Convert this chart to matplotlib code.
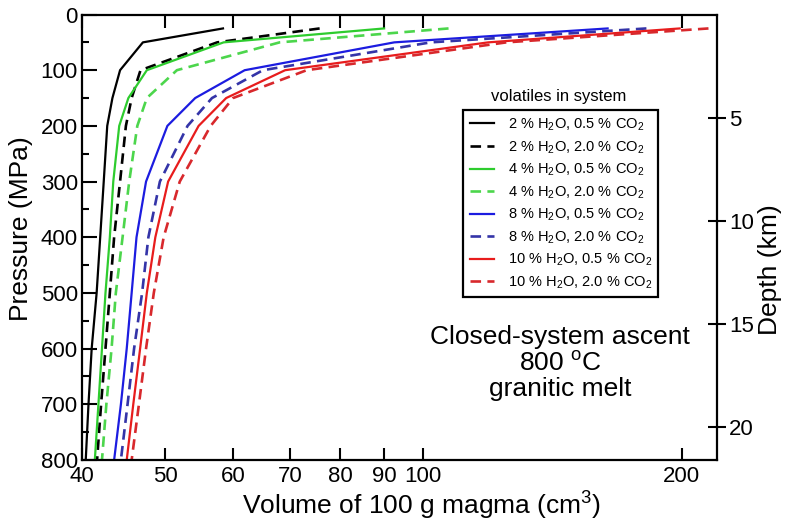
import numpy as np
import matplotlib
matplotlib.use("Agg")
import matplotlib.pyplot as plt
from matplotlib.ticker import MultipleLocator, NullLocator

plt.rcParams['font.family'] = ['Liberation Sans', 'DejaVu Sans']
plt.rcParams['mathtext.fontset'] = 'custom'
plt.rcParams['mathtext.rm'] = 'Liberation Sans'
plt.rcParams['mathtext.it'] = 'Liberation Sans:italic'

# pressure steps of the model (MPa)
pressure = [25, 50, 100, 150, 200, 300, 400, 500, 600, 700, 800]

# volume of 100 g magma (cm3) for each volatile content
vol_2h2o_05co2 = [58.4, 47.1, 44.3, 43.4, 42.8, 42.4, 42.0, 41.6, 41.05, 40.7, 40.4]
vol_2h2o_20co2 = [75.7, 57.5, 46.8, 45.7, 45.0, 44.3, 43.6, 43.1, 42.6, 42.1, 41.65]
vol_4h2o_05co2 = [90.0, 58.5, 47.6, 45.3, 44.2, 43.5, 43.1, 42.6, 42.2, 41.8, 41.4]
vol_4h2o_20co2 = [107.0, 68.0, 51.6, 47.6, 46.4, 45.4, 44.6, 43.8, 43.3, 42.7, 42.2]
vol_8h2o_05co2 = [164.0, 92.5, 61.9, 54.2, 50.3, 47.5, 46.3, 45.7, 45.1, 44.4, 43.6]
vol_8h2o_20co2 = [182.0, 102.0, 65.0, 56.7, 53.1, 49.3, 47.8, 47.0, 46.0, 45.2, 44.4]
vol_10h2o_05co2 = [199.0, 119.0, 69.0, 58.9, 54.7, 50.4, 48.7, 47.6, 46.75, 45.9, 45.1]
vol_10h2o_20co2 = [215.0, 125.0, 73.1, 60.0, 56.5, 52.0, 49.8, 48.5, 47.5, 46.6, 45.7]

labels = ['2 % H$_2$O, 0.5 % CO$_2$', '2 % H$_2$O, 2.0 % CO$_2$',
          '4 % H$_2$O, 0.5 % CO$_2$', '4 % H$_2$O, 2.0 % CO$_2$',
          '8 % H$_2$O, 0.5 % CO$_2$', '8 % H$_2$O, 2.0 % CO$_2$',
          '10 % H$_2$O, 0.5 % CO$_2$', '10 % H$_2$O, 2.0 % CO$_2$']

x_ticks = [40, 50, 60, 70, 80, 90, 100, 200]
depth_ticks = [5, 10, 15, 20]
mpa_per_km = 37.0

fig = plt.figure(figsize=(7.91, 5.28), dpi=100)
ax = fig.add_axes([0.1037, 0.1288, 0.8028, 0.8437])

series = [vol_2h2o_05co2, vol_2h2o_20co2, vol_4h2o_05co2, vol_4h2o_20co2,
          vol_8h2o_05co2, vol_8h2o_20co2, vol_10h2o_05co2, vol_10h2o_20co2]
colors = ['black', 'black', '#2ecc2e', '#4cd64c', '#1c1ce0', '#3434a8', '#e81c1c', '#d8282c']

for i, vol in enumerate(series):
    if i % 2 == 0:
        ax.plot(vol, pressure, color=colors[i], lw=1.6, label=labels[i])
    else:
        ax.plot(vol, pressure, color=colors[i], lw=1.9, dashes=(4, 2.4), label=labels[i])

ax.set_xscale('log')
ax.set_xlim(40, 220)
ax.set_ylim(800, 0)
ax.set_xticks(x_ticks, [str(t) for t in x_ticks])
ax.xaxis.set_minor_locator(NullLocator())
ax.yaxis.set_major_locator(MultipleLocator(100))
ax.yaxis.set_minor_locator(MultipleLocator(50))

ax.tick_params(axis='x', which='major', direction='in', top=True, bottom=True,
               length=9, width=1.5, labelsize=16, pad=4)
ax.tick_params(axis='y', which='major', direction='in', left=True, right=False,
               length=11, width=1.5, labelsize=16, pad=3)
ax.tick_params(axis='y', which='minor', direction='in', left=True, right=False,
               length=5, width=1.5)
for s in ax.spines.values():
    s.set_linewidth(1.6)

ax.set_xlabel('Volume of 100 g magma (cm$^3$)', fontsize=19)
ax.set_ylabel('Pressure (MPa)', fontsize=19)
ax.xaxis.set_label_coords(0.535, -0.068)
ax.yaxis.set_label_coords(-0.077, 0.52)

# depth axis on the right
ax2 = ax.twinx()
ax2.set_ylim(800 / mpa_per_km, 0)
ax2.set_yticks(depth_ticks)
ax2.tick_params(axis='y', direction='inout', length=13, width=1.5, labelsize=16, pad=2)
ax2.yaxis.set_minor_locator(NullLocator())
for s in ax2.spines.values():
    s.set_visible(False)
ax2.set_ylabel('Depth (km)', fontsize=19)
ax2.yaxis.set_label_coords(1.0646, 0.4265)

leg = ax.legend(loc='upper left', bbox_to_anchor=(0.600, 0.7856), borderaxespad=0,
                fontsize=10.5, handlelength=1.7, handletextpad=0.9, labelspacing=0.42,
                fancybox=False, framealpha=1, edgecolor='black', borderpad=0.45)
leg.get_frame().set_linewidth(1.6)
ax.text(0.751, 0.817, 'volatiles in system', transform=ax.transAxes,
        ha='center', va='center', fontsize=12)

ax.text(0.753, 0.275, 'Closed-system ascent', transform=ax.transAxes,
        ha='center', va='center', fontsize=19)
ax.text(0.753, 0.217, '800 $^{\\mathrm{o}}$C', transform=ax.transAxes,
        ha='center', va='center', fontsize=19)
ax.text(0.753, 0.160, 'granitic melt', transform=ax.transAxes,
        ha='center', va='center', fontsize=19)

fig.savefig('out.png', dpi=100)
